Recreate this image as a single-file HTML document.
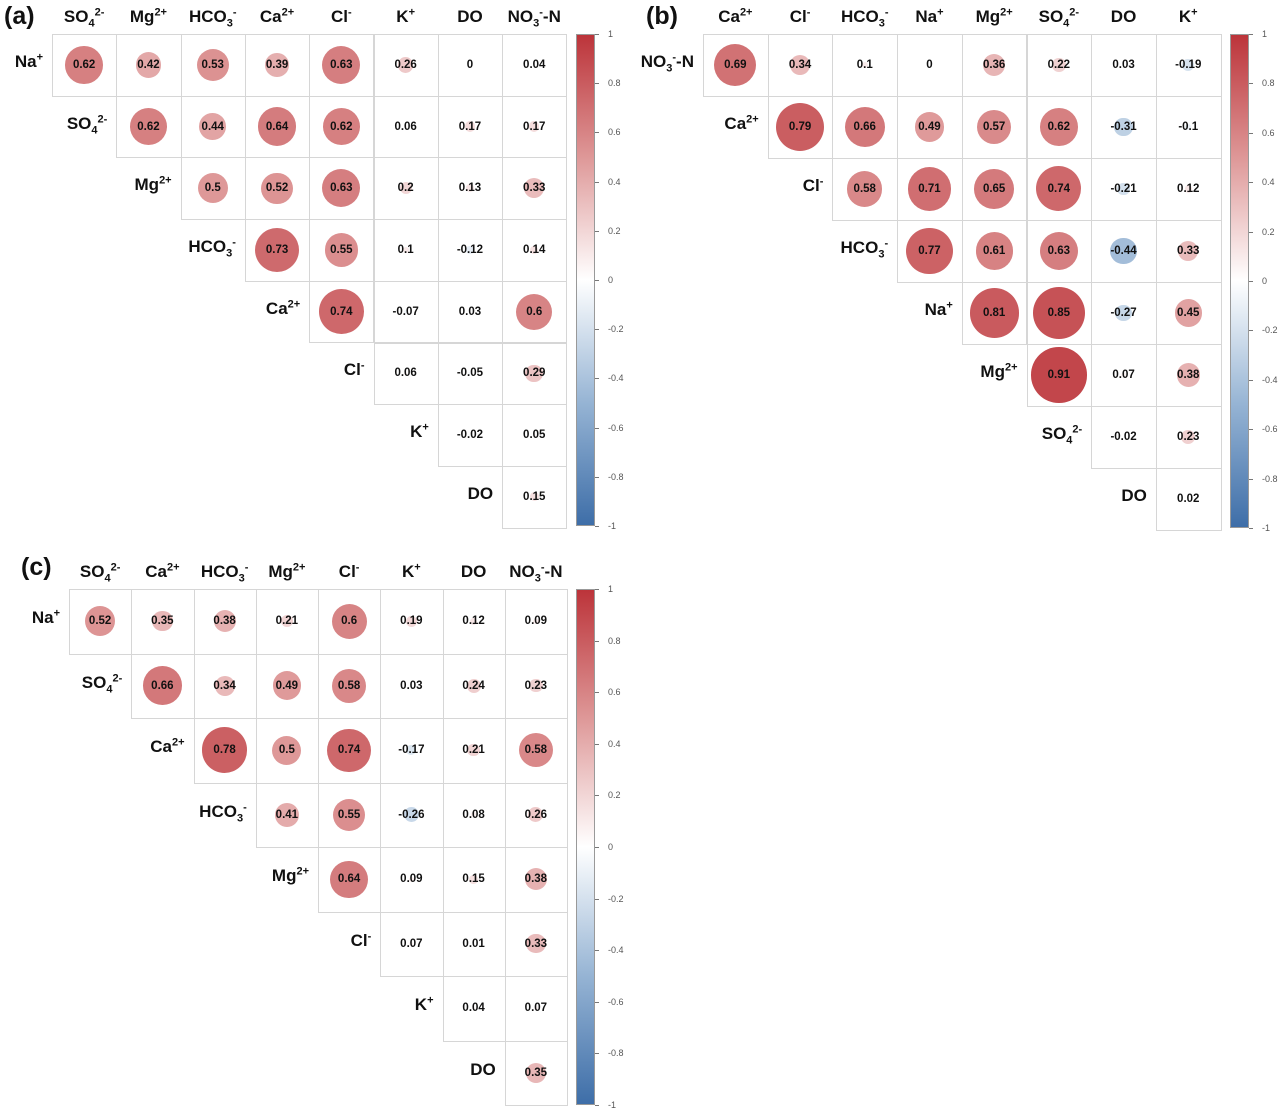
<!DOCTYPE html>
<html><head><meta charset="utf-8">
<style>
body{margin:0;width:1286px;height:1116px;background:#fff;position:relative;overflow:hidden;font-family:"Liberation Sans",Arial,sans-serif}
.abs{position:absolute}
.cell{position:absolute;border:1px solid #d6d6d6;box-sizing:border-box}
.circ{position:absolute;border-radius:50%}
.val{position:absolute;font-size:11.5px;font-weight:bold;color:#111;transform:translate(-50%,-50%);white-space:nowrap}
.lab{position:absolute;font-size:17px;font-weight:bold;color:#111;white-space:nowrap;line-height:1}
.lab sup,.lab sub{font-size:11px;line-height:0}
.tick{position:absolute;font-size:9px;color:#555;transform:translateY(-50%)}
.tk{position:absolute;height:1px;width:4px;background:#777}
.plab{position:absolute;font-size:25px;font-weight:bold;color:#111}
</style></head><body>
<script>
const L={SO4:'SO<sub>4</sub><sup>2-</sup>',Mg:'Mg<sup>2+</sup>',HCO3:'HCO<sub>3</sub><sup>-</sup>',Ca:'Ca<sup>2+</sup>',Cl:'Cl<sup>-</sup>',K:'K<sup>+</sup>',DO:'DO',NO3:'NO<sub>3</sub><sup>-</sup>-N',Na:'Na<sup>+</sup>'};
const colsA=['SO4','Mg','HCO3','Ca','Cl','K','DO','NO3'];
const rowsA=['Na','SO4','Mg','HCO3','Ca','Cl','K','DO'];
const valsA=[[.62,.42,.53,.39,.63,.26,0,.04],[.62,.44,.64,.62,.06,.17,.17],[.5,.52,.63,.2,.13,.33],[.73,.55,.1,-.12,.14],[.74,-.07,.03,.6],[.06,-.05,.29],[-.02,.05],[.15]];
const colsB=['Ca','Cl','HCO3','Na','Mg','SO4','DO','K'];
const rowsB=['NO3','Ca','Cl','HCO3','Na','Mg','SO4','DO'];
const valsB=[[.69,.34,.1,0,.36,.22,.03,-.19],[.79,.66,.49,.57,.62,-.31,-.1],[.58,.71,.65,.74,-.21,.12],[.77,.61,.63,-.44,.33],[.81,.85,-.27,.45],[.91,.07,.38],[-.02,.23],[.02]];
const colsC=['SO4','Ca','HCO3','Mg','Cl','K','DO','NO3'];
const rowsC=['Na','SO4','Ca','HCO3','Mg','Cl','K','DO'];
const valsC=[[.52,.35,.38,.21,.6,.19,.12,.09],[.66,.34,.49,.58,.03,.24,.23],[.78,.5,.74,-.17,.21,.58],[.41,.55,-.26,.08,.26],[.64,.09,.15,.38],[.07,.01,.33],[.04,.07],[.35]];
const cbTicks=[1,0.8,0.6,0.4,0.2,0,-0.2,-0.4,-0.6,-0.8,-1];

const stops=[[-1,[62,110,168]],[-0.5,[150,180,212]],[0,[255,255,255]],[0.5,[222,152,152]],[1,[188,52,58]]];
function color(v){for(let i=0;i<stops.length-1;i++){const a=stops[i],b=stops[i+1];if(v<=b[0]){const t=(v-a[0])/(b[0]-a[0]);const c=a[1].map((x,k)=>Math.round(x+(b[1][k]-x)*t));return `rgb(${c})`;}}return 'rgb(188,52,58)';}
function add(tag,cls,name,style,html){const e=document.createElement(tag);e.className=cls;


Object.assign(e.style,style);if(html!==undefined)e.innerHTML=html;document.body.appendChild(e);return e;}

function panel(p){
  const xs=j=>p.x0+j*p.cw, ys=i=>p.y0+i*p.ch;
  add('div','plab','panel-label-'+p.id,{left:p.lx+'px',top:p.ly+'px'},'('+p.id+')');
  p.cols.forEach((c,j)=>{const e=add('div','lab','column-label',{left:(xs(j)+p.cw/2)+'px',top:(p.y0-26)+'px',transform:'translateX(-50%)'},L[c]);});
  p.rows.forEach((r,i)=>{add('div','lab','row-label',{right:(1286-xs(i)+9)+'px',top:(ys(i)+p.ch/2-12)+'px'},L[r]);});
  p.vals.forEach((row,i)=>row.forEach((v,k)=>{const j=i+k;
    add('div','cell','matrix-cell',{left:xs(j)+'px',top:ys(i)+'px',width:(p.cw+1)+'px',height:(p.ch+1)+'px'});
    const cx=xs(j)+p.cw/2, cy=ys(i)+p.ch/2, r=Math.abs(v)*p.cw*0.47;
    if(r>0.5) add('div','circ','corr-circle',{left:(cx-r)+'px',top:(cy-r)+'px',width:2*r+'px',height:2*r+'px',background:color(v)});
    add('div','val','corr-value',{left:cx+'px',top:cy+'px'},String(v).replace(/^0\./,'0.').replace(/^-0\./,'-0.'));
  }));
  const cb=add('div','abs','colorbar',{left:p.cbx+'px',top:p.cby0+'px',width:'19px',height:(p.cby1-p.cby0)+'px',border:'1px solid #999',boxSizing:'border-box',
    background:'linear-gradient(to bottom,'+[1,0.5,0,-0.5,-1].map(v=>color(v)).join(',')+')'});
  const yv=v=>p.cby0+(1-v)/2*(p.cby1-p.cby0);
  cbTicks.forEach(t=>{add('div','tk','colorbar-tick',{left:(p.cbx+19)+'px',top:yv(t)+'px'});
    add('div','tick','colorbar-tick-label',{left:(p.cbx+32)+'px',top:yv(t)+'px'},String(t));});
}
panel({id:'a',x0:52,cw:64.3,y0:34,ch:61.7,cols:colsA,rows:rowsA,vals:valsA,cbx:576,cby0:34,cby1:526,lx:4,ly:2});
panel({id:'b',x0:703,cw:64.7,y0:34,ch:62,cols:colsB,rows:rowsB,vals:valsB,cbx:1230,cby0:34,cby1:528,lx:646,ly:2});
panel({id:'c',x0:69,cw:62.25,y0:589,ch:64.5,cols:colsC,rows:rowsC,vals:valsC,cbx:576,cby0:589,cby1:1105,lx:21,ly:553});
</script>
</body></html>
